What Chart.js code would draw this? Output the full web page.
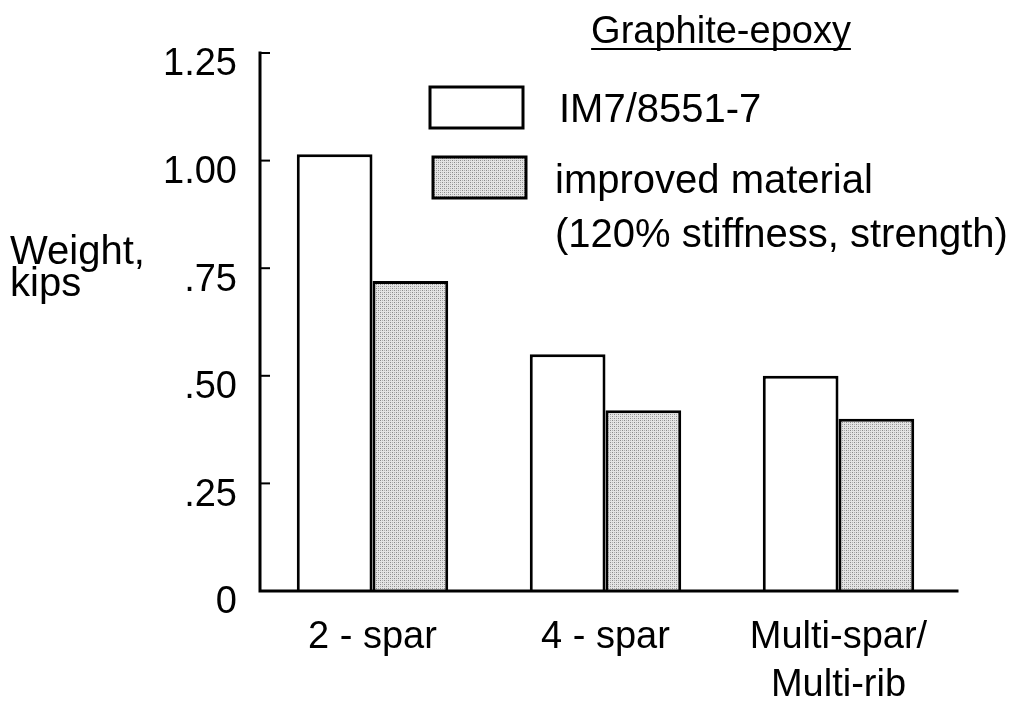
<!DOCTYPE html>
<html>
<head>
<meta charset="utf-8">
<script src="https://cdn.jsdelivr.net/npm/chart.js@4.4.1/dist/chart.umd.min.js"></script>
<style>
  html, body { margin: 0; padding: 0; background: #fff; }
  #wrap { width: 1022px; height: 710px; }
</style>
</head>
<body>
<div id="wrap"><canvas id="weightChart"></canvas></div>
<script>
const categories = ["2 - spar", "4 - spar", ["Multi-spar/", "Multi-rib"]];
const im7Weights = [1.015, 0.55, 0.50];
const improvedWeights = [0.72, 0.42, 0.40];
const yTickValues = [0, 0.25, 0.5, 0.75, 1.0, 1.25];
const yTickLabels = ["0", ".25", ".50", ".75", "1.00", "1.25"];
const seriesNames = ["IM7/8551-7", ["improved material", "(120% stiffness, strength)"]];
const legendTitle = "Graphite-epoxy";
const axisTitle = ["Weight,", "kips"];

const FONT = '"Liberation Sans", Arial, Helvetica, sans-serif';
const FONT_SIZE = 38;
const LEGEND_FONT_SIZE = 40;

// stippled grey fill like the printed halftone
function makeStipple() {
  const c = document.createElement("canvas");
  c.width = 4;
  c.height = 4;
  const g = c.getContext("2d");
  g.fillStyle = "#e4e4e4";
  g.fillRect(0, 0, 4, 4);
  g.fillStyle = "#8a8a8a";
  g.fillRect(0, 0, 1, 1);
  g.fillRect(2, 2, 1, 1);
  g.fillStyle = "#b0b0b0";
  g.fillRect(2, 0, 1, 1);
  g.fillRect(0, 2, 1, 1);
  return g.createPattern(c, "repeat");
}

const canvas = document.getElementById("weightChart");
const stipple = makeStipple();

const decorPlugin = {
  id: "decor",
  afterDatasetsDraw(chart) {
    const ctx = chart.ctx;
    const xs = chart.scales.x;
    const ys = chart.scales.y;
    const axisX = xs.left + 4;
    const zeroY = ys.getPixelForValue(0);

    ctx.save();
    ctx.strokeStyle = "#000";
    ctx.lineCap = "square";

    // axes
    ctx.lineWidth = 3;
    ctx.beginPath();
    ctx.moveTo(axisX, ys.getPixelForValue(1.25));
    ctx.lineTo(axisX, zeroY);
    ctx.lineTo(xs.right + 2, zeroY);
    ctx.stroke();

    // inward tick marks
    ctx.lineWidth = 2;
    yTickValues.forEach((v) => {
      if (v === 0) return;
      const py = ys.getPixelForValue(v);
      ctx.beginPath();
      ctx.moveTo(axisX, py);
      ctx.lineTo(axisX + 9, py);
      ctx.stroke();
    });

    // y axis title
    ctx.fillStyle = "#000";
    ctx.font = LEGEND_FONT_SIZE + "px " + FONT;
    ctx.textAlign = "left";
    ctx.textBaseline = "alphabetic";
    ctx.fillText(axisTitle[0], 10, 264);
    ctx.fillText(axisTitle[1], 10, 296);

    // legend title, underlined
    ctx.font = FONT_SIZE + "px " + FONT;
    ctx.textAlign = "center";
    ctx.fillText(legendTitle, 721, 43);
    const tw = ctx.measureText(legendTitle).width;
    ctx.lineWidth = 2;
    ctx.lineCap = "butt";
    ctx.beginPath();
    ctx.moveTo(721 - tw / 2, 49);
    ctx.lineTo(721 + tw / 2, 49);
    ctx.stroke();

    // legend entries
    const ds = chart.data.datasets;
    ctx.font = LEGEND_FONT_SIZE + "px " + FONT;
    ctx.lineWidth = 3;
    ctx.textAlign = "left";

    ctx.fillStyle = ds[0].backgroundColor;
    ctx.fillRect(430, 87, 93, 41);
    ctx.strokeRect(430, 87, 93, 41);
    ctx.fillStyle = "#000";
    ctx.fillText(seriesNames[0], 559, 122);

    ctx.fillStyle = ds[1].backgroundColor;
    ctx.fillRect(433, 157, 93, 41);
    ctx.strokeRect(433, 157, 93, 41);
    ctx.fillStyle = "#000";
    ctx.fillText(seriesNames[1][0], 555, 193);
    ctx.fillText(seriesNames[1][1], 555, 247);

    ctx.restore();
  },
};

new Chart(canvas.getContext("2d"), {
  type: "bar",
  data: {
    labels: categories,
    datasets: [
      {
        label: seriesNames[0],
        data: im7Weights,
        backgroundColor: "#ffffff",
        borderColor: "#000000",
        borderWidth: 3,
        borderSkipped: "bottom",
      },
      {
        label: seriesNames[1].join(" "),
        data: improvedWeights,
        backgroundColor: stipple,
        borderColor: "#000000",
        borderWidth: 3,
        borderSkipped: "bottom",
      },
    ],
  },
  options: {
    responsive: true,
    maintainAspectRatio: false,
    animation: false,
    devicePixelRatio: 1,
    layout: {
      padding: { top: 53, right: 67, bottom: 0, left: 0 },
    },
    datasets: {
      bar: { categoryPercentage: 0.65, barPercentage: 1.0 },
    },
    plugins: {
      legend: { display: false },
      tooltip: { enabled: false },
    },
    scales: {
      x: {
        grid: { display: false, drawTicks: false },
        border: { display: false },
        ticks: {
          color: "#000",
          padding: 23,
          maxRotation: 0,
          font: { family: FONT, size: FONT_SIZE, lineHeight: 1.25 },
        },
        afterFit: (s) => { s.height = 119; },
      },
      y: {
        min: 0,
        max: 1.25,
        grid: { display: false, drawTicks: false },
        border: { display: false },
        ticks: {
          stepSize: 0.25,
          color: "#000",
          padding: 19,
          labelOffset: 12,
          font: { family: FONT, size: FONT_SIZE },
          callback: (v) => {
            const i = yTickValues.indexOf(v);
            return i >= 0 ? yTickLabels[i] : "";
          },
        },
        afterFit: (s) => { s.width = 256; },
      },
    },
  },
  plugins: [decorPlugin],
});
</script>
</body>
</html>
